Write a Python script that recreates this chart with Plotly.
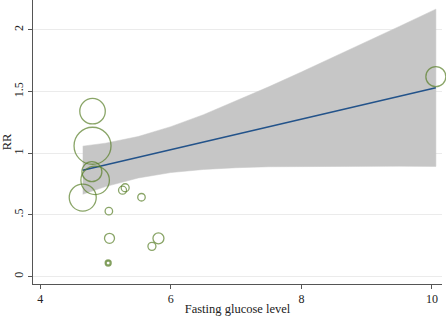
import plotly.graph_objects as go

# Study points (fasting glucose level, RR, marker diameter in px ~ weight)
glucose = [4.80, 4.80, 4.79, 4.84, 4.65, 5.26, 5.30, 5.55, 5.05, 5.06, 5.81, 5.71, 5.04, 5.04, 10.06]
rr      = [1.34, 1.06, 0.85, 0.78, 0.64, 0.70, 0.72, 0.643, 0.53, 0.31, 0.31, 0.245, 0.11, 0.11, 1.62]
weight  = [25.5, 37, 20, 28.5, 27, 8, 8, 7.5, 7.5, 10, 11, 8, 6, 4, 20]

# Meta-regression fit and confidence band
fit_x     = [4.65, 5.0, 5.5, 6.0, 6.5, 7.0, 7.5, 8.0, 8.5, 9.0, 9.5, 10.06]
fit_y     = [0.862, 0.905, 0.967, 1.029, 1.090, 1.152, 1.214, 1.276, 1.337, 1.399, 1.461, 1.530]
ci_upper  = [1.057, 1.081, 1.135, 1.215, 1.312, 1.422, 1.538, 1.658, 1.779, 1.903, 2.027, 2.167]
ci_lower  = [0.667, 0.729, 0.799, 0.843, 0.868, 0.882, 0.890, 0.894, 0.895, 0.895, 0.895, 0.893]

x_ticks = [4, 6, 8, 10]
y_ticks = [0, 0.5, 1, 1.5, 2]
y_tick_labels = ["0", ".5", "1", "1.5", "2"]

FONT = "Liberation Serif"

fig = go.Figure()
fig.add_trace(go.Scatter(
    x=fit_x + fit_x[::-1], y=ci_upper + ci_lower[::-1],
    fill="toself", fillcolor="#c6c6c6", line=dict(color="#c6c6c6", width=0.5),
    mode="lines", hoverinfo="skip", showlegend=False))
fig.add_trace(go.Scatter(
    x=fit_x, y=fit_y, mode="lines", line=dict(color="#23538a", width=1.5),
    showlegend=False))
fig.add_trace(go.Scatter(
    x=glucose, y=rr, mode="markers", cliponaxis=False,
    marker=dict(size=weight, symbol="circle-open", color="#587f28",
                line=dict(color="#587f28", width=1.3)),
    showlegend=False))

fig.update_layout(
    width=446, height=316,
    margin=dict(l=33, r=4, t=0, b=32),
    paper_bgcolor="white", plot_bgcolor="white",
    font=dict(family=FONT, size=12, color="#222"),
    xaxis=dict(range=[3.888, 10.154], tickvals=x_ticks, ticks="outside", ticklen=4,
               tickcolor="#555", showline=True, linecolor="#555", linewidth=1,
               showgrid=False, zeroline=False, automargin=False,
               title=dict(text="Fasting glucose level", font=dict(family=FONT, size=12.5), standoff=0),
               tickfont=dict(family=FONT, size=12)),
    yaxis=dict(range=[-0.060, 2.241], tickvals=y_ticks, ticktext=y_tick_labels,
               tickangle=-90, ticks="outside", ticklen=4, tickcolor="#555",
               showline=True, linecolor="#555", linewidth=1,
               showgrid=True, gridcolor="#ebebeb", gridwidth=1, zeroline=False, automargin=False,
               title=dict(text="RR", font=dict(family=FONT, size=12.5), standoff=4),
               tickfont=dict(family=FONT, size=12)),
)

fig.write_html("out.html", config={"displayModeBar": False},
               post_script="document.body.style.margin='0';")
